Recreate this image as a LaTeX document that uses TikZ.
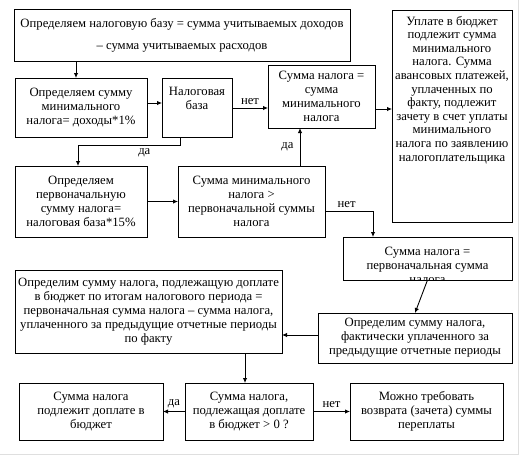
\documentclass[tikz,border=0pt]{standalone}
\usepackage{fontspec}
\setmainfont{Liberation Serif}
\newfontfamily\tnr{Liberation Serif}
\usetikzlibrary{arrows.meta}
\newcommand\fsz{\tnr\fontsize{12.7pt}{14pt}\selectfont}
\newcommand\pbx[4]{\parbox[c][#2][#3]{#1}{\centering\fsz #4}}
\tikzset{
  box/.style={draw, line width=0.9pt, inner sep=0pt, outer sep=0pt},
  txtbox/.style={inner sep=0pt, outer sep=0pt},
  arr/.style={-{Latex[length=5pt,width=4.5pt]}, line width=0.9pt},
  ln/.style={line width=0.9pt},
  lbl/.style={inner sep=0pt, font=\fsz}
}
\begin{document}
\begin{tikzpicture}[x=1pt,y=-1pt]
\useasboundingbox (0,0) rectangle (522,456);
\fill[white] (0,0) rectangle (522,456);
\draw[gray!25, line width=1pt] (518,0) -- (518,454) -- (0,454);

\node[box] (A) at (182,35) {\pbx{336pt}{52pt}{c}{\fontsize{12.7pt}{22pt}\selectfont Определяем налоговую базу = сумма учитываемых доходов\\ – сумма учитываемых расходов}};
\node[box] (B) at (81,107.5) {\pbx{132pt}{59pt}{c}{Определяем сумму\\минимального\\налога= доходы*1\%}};
\node[box] (C) at (197,107.5) {\pbx{70pt}{59pt}{t}{\vspace*{9pt}Налоговая\\база}};
\node[box] (D) at (321.5,96.5) {\pbx{107pt}{63pt}{c}{Сумма налога =\\сумма\\минимального\\налога}};
\node[box] (E) at (452,116) {\pbx{120pt}{212pt}{t}{\vspace*{6pt}\fontsize{12.7pt}{13.6pt}\selectfont Уплате в бюджет\\подлежит сумма\\минимального\\налога. Сумма\\авансовых платежей,\\уплаченных по\\факту, подлежит\\зачету в счет уплаты\\минимального\\налога по заявлению\\налогоплательщика}};
\node[box] (F) at (81,201.5) {\pbx{132pt}{71pt}{c}{Определяем\\первоначальную\\сумму налога=\\налоговая база*15\%}};
\node[box] (G) at (251.5,201.5) {\pbx{147pt}{71pt}{c}{Сумма минимального\\налога >\\первоначальной суммы\\налога}};
\begin{scope}
\clip (343,237) rectangle (512,280);
\node[txtbox] (H) at (427.5,258.5) {\pbx{169pt}{43pt}{t}{\vspace*{10pt}Сумма налога =\\первоначальная сумма\\налога}};
\end{scope}
\draw[ln] (H.north west) rectangle (H.south east);
\node[box] (I) at (148.5,311.5) {\pbx{267pt}{83pt}{c}{Определим сумму налога, подлежащую доплате\\в бюджет по итогам налогового периода =\\первоначальная сумма налога – сумма налога,\\уплаченного за предыдущие отчетные периоды\\по факту}};
\node[box] (J) at (415,338) {\pbx{194pt}{50pt}{c}{Определим сумму налога,\\фактически уплаченного за\\предыдущие отчетные периоды}};
\node[box] (K) at (91,411.5) {\pbx{144pt}{57pt}{c}{Сумма налога\\подлежит доплате в\\бюджет}};
\node[box] (L) at (249,411.5) {\pbx{128pt}{57pt}{c}{Сумма налога,\\подлежащая доплате\\в бюджет > 0 ?}};
\node[box] (M) at (426.5,411.5) {\pbx{153pt}{57pt}{c}{Можно требовать\\возврата (зачета) суммы\\переплаты}};

\coordinate (xab) at (76,0);
\coordinate (ybc) at (0,103);
\coordinate (ycd) at (0,108);
\coordinate (yde) at (0,109);
\coordinate (xcf) at (180,0);
\coordinate (ycf) at (0,145);
\coordinate (xf) at (78,0);
\coordinate (xgd) at (300,0);
\coordinate (ygh) at (0,211);
\coordinate (xgh) at (373,0);
\coordinate (yji) at (0,335);
\coordinate (xil) at (245,0);

\draw[arr] (A.south -| xab) -- (B.north -| xab);
\draw[arr] (B.east |- ybc) -- (C.west |- ybc);
\draw[arr] (C.east |- ycd) -- node[lbl, above=3pt] {нет} (D.west |- ycd);
\draw[arr] (D.east |- yde) -- (E.west |- yde);
\draw[arr] (C.south -| xcf) -- (xcf |- ycf) -- node[lbl, below=3pt, pos=0.35] {да} (xf |- ycf) -- (F.north -| xf);
\draw[arr] (F.east) -- (G.west);
\draw[arr] (G.north -| xgd) -- node[lbl, left=6pt, pos=0.5] {да} (D.south -| xgd);
\draw[arr] (G.east |- ygh) -- node[lbl, above=3pt, pos=0.45] {нет} (xgh |- ygh) -- (H.north -| xgh);
\draw[arr] (H.south) -- (J.north);
\draw[arr] (J.west |- yji) -- (I.east |- yji);
\draw[arr] (I.south -| xil) -- (L.north -| xil);
\draw[arr] (L.west) -- node[lbl, above=3pt] {да} (K.east);
\draw[arr] (L.east) -- node[lbl, above=3pt] {нет} (M.west);
\end{tikzpicture}
\end{document}
